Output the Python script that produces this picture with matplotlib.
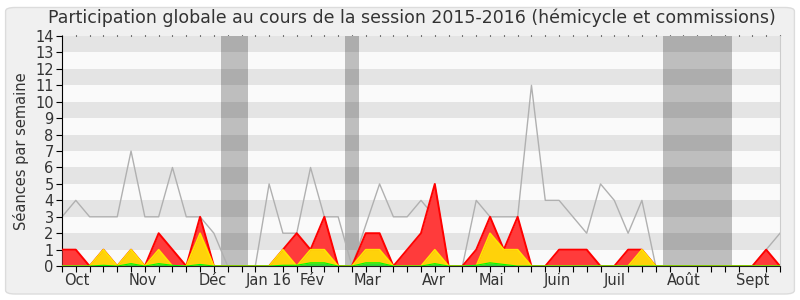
import numpy as np
import matplotlib
matplotlib.use("Agg")
import matplotlib.pyplot as plt
from matplotlib.patches import FancyBboxPatch

# weekly values, session 2015-2016 (53 weeks)
weeks = np.arange(53)
median_total = [3, 4, 3, 3, 3, 7, 3, 3, 6, 3, 3, 2, 0, 0, 0, 5, 2, 2, 6, 3,
                3, 0, 2.5, 5, 3, 3, 4, 3, 0, 0, 4, 3, 3, 3, 11, 4, 4, 3, 2, 5,
                4, 2, 4, 0, 0, 0, 0, 0, 0, 0, 0, 1, 2]
presences = [1, 1, 0, 1, 0, 1, 0, 2, 1, 0, 3, 0, 0, 0, 0, 0, 1, 2, 1, 3,
             0, 0, 2, 2, 0, 1, 2, 5, 0, 0, 1, 3, 1, 3, 0, 0, 1, 1, 1, 0,
             0, 1, 1, 0, 0, 0, 0, 0, 0, 0, 0, 1, 0]
participations = [0, 0, 0, 1, 0, 1, 0, 1, 0, 0, 2, 0, 0, 0, 0, 0, 1, 0, 1, 1,
                  0, 0, 1, 1, 0, 0, 0, 1, 0, 0, 0, 2, 1, 1, 0, 0, 0, 0, 0, 0,
                  0, 0, 1, 0, 0, 0, 0, 0, 0, 0, 0, 0, 0]
interventions = [0, 0, 0, 0.05, 0, 0.15, 0, 0.15, 0.05, 0, 0.1, 0, 0, 0, 0, 0, 0.05, 0.05, 0.2, 0.2,
                 0, 0, 0.2, 0.2, 0, 0, 0, 0.15, 0, 0, 0.05, 0.2, 0.1, 0, 0, 0, 0, 0, 0, 0,
                 0, 0, 0, 0, 0, 0, 0, 0, 0, 0, 0, 0, 0]
vacances = [(11.5, 13.5), (20.5, 21.5), (43.5, 48.5)]
months = ["Oct", "Nov", "Déc", "Jan 16", "Fév", "Mar", "Avr", "Mai", "Juin", "Juil", "Août", "Sept"]
month_pos = [1.07, 5.87, 10.9, 15.0, 18.1, 22.1, 26.9, 31.1, 35.9, 40.0, 45.0, 50.0]

txt = '#333333'

fig = plt.figure(figsize=(8, 3), dpi=100, facecolor='white')
fig.patches.append(FancyBboxPatch((0.007, 0.02), 0.986, 0.955,
                                  boxstyle="round,pad=0,rounding_size=0.012",
                                  transform=fig.transFigure, facecolor='#F0F0F0',
                                  edgecolor='#DCDCDC', lw=1, zorder=-10))

ax = fig.add_axes([0.0775, 0.113, 0.8975, 0.767])
ax.set_facecolor('#FAFAFA')
ax.set_xlim(0, 52)
ax.set_ylim(0, 14)

# vacation weeks
for a, b in vacances:
    ax.axvspan(a, b, color='#BEBEBE', lw=0, zorder=0.5)
# horizontal stripes
for k in range(1, 14, 2):
    ax.axhspan(k, k + 1, color='black', alpha=0.085, lw=0, zorder=1)

ax.plot(weeks, median_total, color='#B0B0B0', lw=1, zorder=2)

ax.fill_between(weeks, 0, presences, color='#FF3B3B', lw=0, zorder=3)
ax.plot(weeks, presences, color='#FF0000', lw=1.4, zorder=3.1)
ax.fill_between(weeks, 0, participations, color='#FFD20A', lw=0, zorder=4)
ax.plot(weeks, participations, color='#FFE400', lw=1.2, zorder=4.1)
ax.fill_between(weeks, 0, interventions, color='#33DD33', lw=0, zorder=5)
ax.plot(weeks, interventions, color='#00FF00', lw=0.8, zorder=5.1)

ax.spines['top'].set_visible(False)
ax.spines['right'].set_color('#CCCCCC')
ax.spines['left'].set_color('black')
ax.spines['bottom'].set_color('#202020')
ax.spines['bottom'].set_zorder(6)

ax.set_xticks(weeks, minor=True)
ax.set_xticks(month_pos, labels=months)
ax.tick_params(axis='x', which='major', length=0, pad=5, labelsize=10.5, labelcolor=txt)
ax.tick_params(axis='x', which='minor', length=4, width=0.8, direction='out')
ax.set_yticks(range(15))
ax.tick_params(axis='y', length=4, width=0.8, pad=2, labelsize=10.5, labelcolor=txt)

# small dots along the top edge
top = ax.secondary_xaxis('top')
top.set_xticks(weeks)
top.tick_params(length=1, width=0.8, labeltop=False)
top.spines['top'].set_visible(False)

ax.set_ylabel("Séances par semaine", fontsize=10.5, color=txt, labelpad=4)
fig.text(0.515, 0.94, "Participation globale au cours de la session 2015-2016 (hémicycle et commissions)",
         ha='center', va='center', fontsize=12.5, color=txt)

fig.savefig("out.png", dpi=100, facecolor=fig.get_facecolor())
